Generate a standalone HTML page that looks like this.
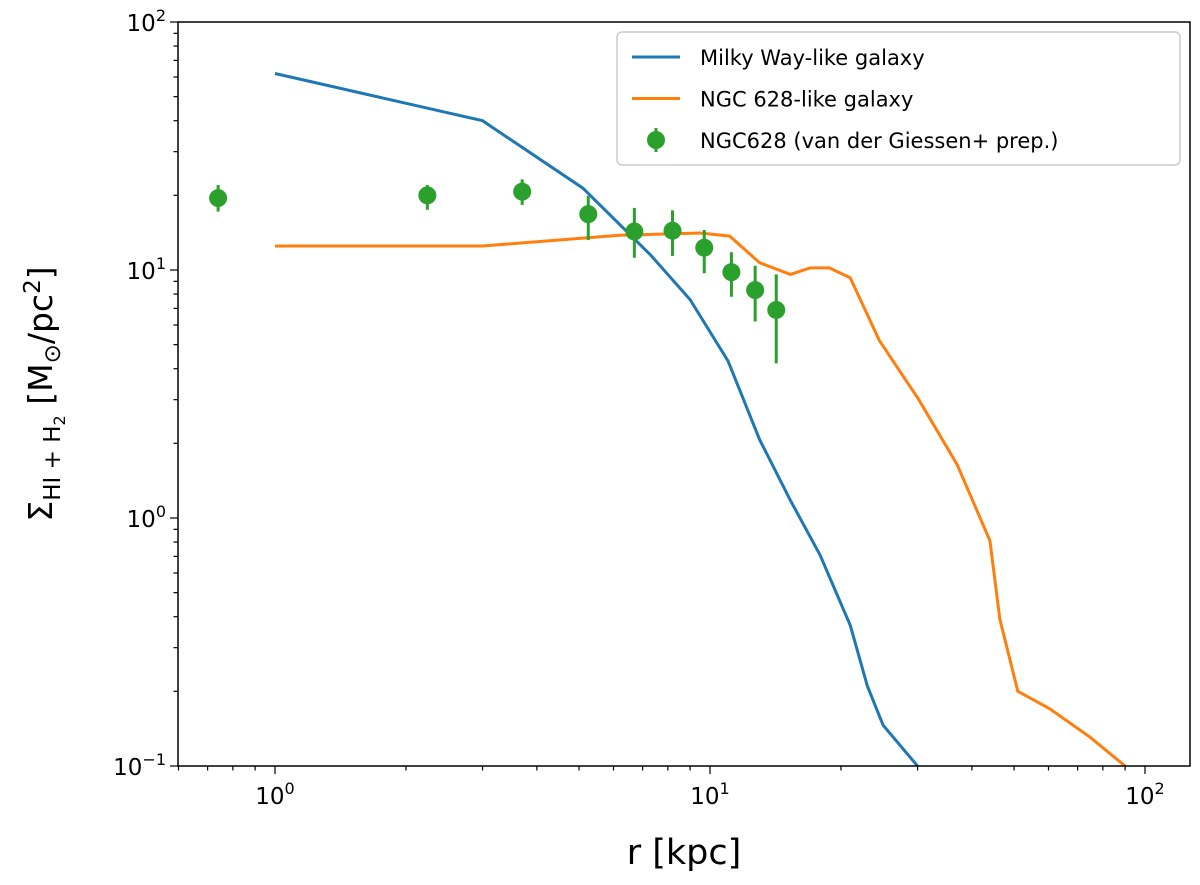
<!DOCTYPE html>
<html><head><meta charset="utf-8"><style>
html,body{margin:0;padding:0;background:#fff;}
svg{display:block;font-family:"DejaVu Sans","Liberation Sans",sans-serif;}
</style></head><body>
<svg id="chart" width="1200" height="885"></svg>
<script>
const blueR=[1,3,5.1,7.3,9.0,11,13,15.3,17.9,21,23,25,30];
const blueY=[62,40,21.4,11.5,7.6,4.3,2.07,1.18,0.71,0.37,0.21,0.146,0.1];
const orangeR=[1,3,6.2,9.5,11.1,13,15.3,17,18.8,21,24.5,30.2,37,44,46.4,51,60.4,75,90];
const orangeY=[12.5,12.5,13.8,14.1,13.7,10.7,9.6,10.2,10.2,9.3,5.2,3.0,1.64,0.81,0.39,0.2,0.17,0.13,0.1];
const obsR=[0.74,2.24,3.7,5.25,6.7,8.2,9.7,11.2,12.7,14.2];
const obsY=[19.5,20,20.7,16.8,14.3,14.4,12.3,9.8,8.3,6.9];
const obsHi=[22.0,22.0,23.2,19.9,17.8,17.4,14.5,11.8,10.4,9.6];
const obsLo=[17.2,17.5,18.3,13.2,11.2,11.4,9.7,7.8,6.2,4.2];
const xTicks=[1,10,100];const yTicks=[0.1,1,10,100];
const yTickExp=["\u22121","0","1","2"];const xTickExp=["0","1","2"];

const L=178,R=1190,T=22,B=766;
const X=v=>275+Math.log10(v)*435;
const Y=v=>22+(2-Math.log10(v))*248;
const svg=document.getElementById('chart');
const NS='http://www.w3.org/2000/svg';
function mk(tag,attrs,parent){const e=document.createElementNS(NS,tag);for(const k in attrs)e.setAttribute(k,attrs[k]);(parent||svg).appendChild(e);return e;}

const pathD=(rs,ys)=>rs.map((r,i)=>(i?'L':'M')+X(r).toFixed(1)+','+Y(ys[i]).toFixed(1)).join(' ');
const clip=mk('clipPath',{id:'pc'});mk('rect',{x:L,y:T,width:R-L,height:B-T},clip);
let e=mk('path',{d:pathD(blueR,blueY),fill:'none',stroke:'#1f77b4','stroke-width':3,'clip-path':'url(#pc)'});


e=mk('path',{d:pathD(orangeR,orangeY),fill:'none',stroke:'#ff7f0e','stroke-width':3,'clip-path':'url(#pc)'});


obsR.forEach((r,i)=>{
  const g=mk('g',{});
  
  
  mk('line',{x1:X(r),x2:X(r),y1:Y(obsHi[i]),y2:Y(obsLo[i]),stroke:'#2ca02c','stroke-width':3},g);
  mk('circle',{cx:X(r),cy:Y(obsY[i]),r:9,fill:'#2ca02c'},g);
});

e=mk('rect',{x:L,y:T,width:R-L,height:B-T,fill:'none',stroke:'#000','stroke-width':1.5});



for(let d=-1;d<=2;d++)for(let m=1;m<10;m++){
  const v=m*Math.pow(10,d),x=X(v);if(x<L||x>R)continue;
  mk('line',{x1:x,x2:x,y1:B,y2:B+(m==1?8:4.5),stroke:'#000','stroke-width':1.2});
}
xTicks.forEach((v,i)=>{
  const t=mk('text',{x:X(v),y:B+38,'text-anchor':'middle','font-size':23});
  
  
  t.innerHTML='10<tspan dy="-10" font-size="16">'+xTickExp[i]+'</tspan>';
});
for(let d=-1;d<=1;d++)for(let m=1;m<10;m++){
  const v=m*Math.pow(10,d),y=Y(v);
  mk('line',{x1:L,x2:L-(m==1?8:4.5),y1:y,y2:y,stroke:'#000','stroke-width':1.2});
}
mk('line',{x1:L,x2:L-8,y1:T,y2:T,stroke:'#000','stroke-width':1.2});
yTicks.forEach((v,i)=>{
  const t=mk('text',{x:L-12,y:Y(v)+9,'text-anchor':'end','font-size':23});
  
  
  t.innerHTML='10<tspan dy="-10" font-size="16">'+yTickExp[i]+'</tspan>';
});
e=mk('text',{x:684,y:864,'text-anchor':'middle','font-size':35});
e.textContent='r [kpc]';


e=mk('text',{transform:'translate(52,394) rotate(-90)','text-anchor':'middle','font-size':33});
e.innerHTML='Σ<tspan font-size="23" dy="8">HI + H</tspan><tspan font-size="16" dy="5">2</tspan><tspan dy="-13"> [M</tspan><tspan font-size="23" dy="8">⊙</tspan><tspan dy="-8">/pc</tspan><tspan font-size="23" dy="-12">2</tspan><tspan dy="12">]</tspan>';



const lg=mk('g',{});


mk('rect',{x:617,y:32,width:563,height:133,rx:5,fill:'#fff',stroke:'#ccc','stroke-width':1.5},lg);
const ents=[['Milky Way-like galaxy','#1f77b4','line'],['NGC 628-like galaxy','#ff7f0e','line'],['NGC628 (van der Giessen+ prep.)','#2ca02c','pt']];
ents.forEach((en,i)=>{
  const y=57+i*41.5;
  const g=mk('g',{},lg);
  
  
  if(en[2]=='line')mk('line',{x1:632,x2:680,y1:y,y2:y,stroke:en[1],'stroke-width':3},g);
  else{mk('line',{x1:656,x2:656,y1:y-12,y2:y+12,stroke:en[1],'stroke-width':3},g);mk('circle',{cx:656,cy:y,r:9,fill:en[1]},g);}
  const t=mk('text',{x:700,y:y+8,'font-size':21},g);t.textContent=en[0];
});
</script>
</body></html>
